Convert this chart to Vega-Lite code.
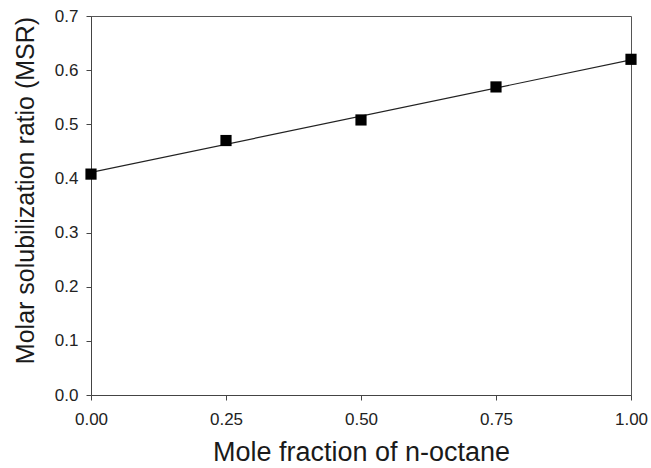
{
  "$schema": "https://vega.github.io/schema/vega-lite/v6.json",
  "width": 540,
  "height": 379,
  "autosize": "none",
  "padding": {"left": 91, "top": 16, "right": 20, "bottom": 73},
  "background": "white",
  "config": {
    "font": "Liberation Sans",
    "view": {"stroke": "#555", "strokeWidth": 1},
    "axis": {
      "grid": false,
      "labelFlush": false,
      "domainColor": "#444",
      "tickColor": "#444",
      "tickSize": 5,
      "labelFontSize": 17,
      "labelColor": "#222",
      "titleFontSize": 27,
      "titleFontWeight": "normal",
      "titleColor": "#1a1a1a"
    }
  },
  "datasets": {
    "obs": [
      {"x": 0.0, "y": 0.408},
      {"x": 0.25, "y": 0.470},
      {"x": 0.5, "y": 0.508},
      {"x": 0.75, "y": 0.569},
      {"x": 1.0, "y": 0.620}
    ],
    "fit": [
      {"x": 0.0, "y": 0.411},
      {"x": 1.0, "y": 0.619}
    ]
  },
  "layer": [
    {
      "data": {"name": "fit"},
      "mark": {"type": "line", "color": "#222", "strokeWidth": 1.2, "clip": true},
      "encoding": {
        "x": {"field": "x", "type": "quantitative"},
        "y": {"field": "y", "type": "quantitative"}
      }
    },
    {
      "data": {"name": "obs"},
      "mark": {"type": "square", "color": "black", "opacity": 1, "size": 125, "filled": true, "clip": false},
      "encoding": {
        "x": {
          "field": "x", "type": "quantitative",
          "scale": {"domain": [0, 1], "nice": false},
          "axis": {"values": [0, 0.25, 0.5, 0.75, 1], "format": ".2f", "title": "Mole fraction of n-octane", "labelPadding": 11, "labelFlush": false, "titleY": 65, "titleBaseline": "alphabetic"}
        },
        "y": {
          "field": "y", "type": "quantitative",
          "scale": {"domain": [0, 0.7], "nice": false},
          "axis": {"values": [0, 0.1, 0.2, 0.3, 0.4, 0.5, 0.6, 0.7], "format": ".1f", "title": "Molar solubilization ratio (MSR)", "labelPadding": 8, "labelFlush": false, "titleFontSize": 25, "titleX": -58, "titleY": 174, "titleBaseline": "alphabetic", "titleAngle": -90, "titleAlign": "center"}
        }
      }
    }
  ]
}
